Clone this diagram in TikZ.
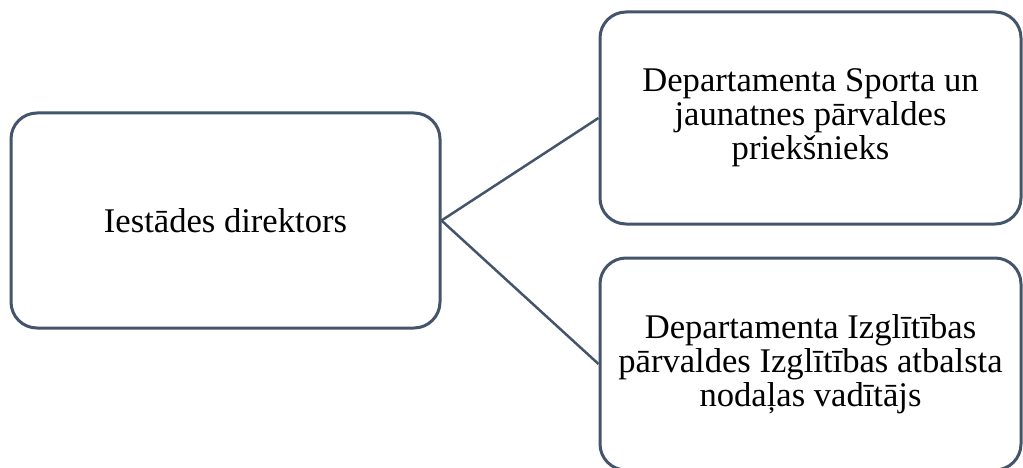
\documentclass[tikz,border=0pt]{standalone}
\usepackage{fontspec}
\setmainfont{Liberation Serif}
\definecolor{boxline}{HTML}{44546A}
\begin{document}
\begin{tikzpicture}[x=1pt,y=-1pt,
  orgbox/.style={draw=boxline,line width=3pt,rounded corners=26pt,fill=white,
    align=center,inner sep=0pt,font=\fontsize{34.6pt}{34pt}\selectfont},
  link/.style={draw=boxline,line width=2.5pt}]
\useasboundingbox (0,0) rectangle (1023,468);
\node[orgbox,minimum width=429pt,minimum height=215pt] (dir) at (225.5,220.5) {Iestādes direktors};
\node[orgbox,minimum width=421pt,minimum height=212pt] (sport) at (810.5,118) {Departamenta Sporta un\\jaunatnes pārvaldes\\priekšnieks};
\node[orgbox,minimum width=421pt,minimum height=212pt] (izgl) at (810.5,364) {Departamenta Izglītības\\pārvaldes Izglītības atbalsta\\nodaļas vadītājs};
\draw[link] (dir.east) -- (sport.west);
\draw[link] (dir.east) -- (izgl.west);
\end{tikzpicture}
\end{document}
